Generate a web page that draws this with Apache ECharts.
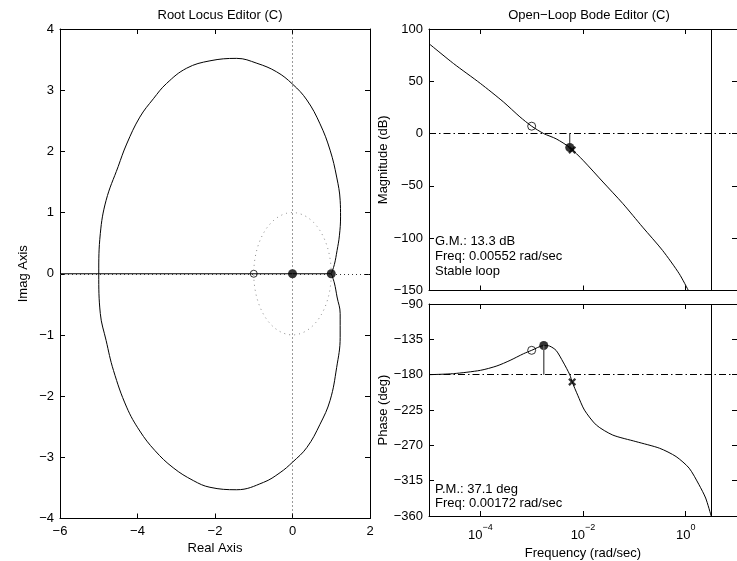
<!DOCTYPE html>
<html>
<head>
<meta charset="utf-8">
<script src="https://cdn.jsdelivr.net/npm/echarts@6/dist/echarts.min.js"></script>
<style>
  html, body { margin: 0; padding: 0; background: #fff; }
  #chart { width: 737px; height: 561px; }
</style>
</head>
<body>
<div id="chart"></div>
<script>
// ---- Root locus (left panel) ----
// complex branch of the locus, [real, imag], traced from the pole at 1 around the loop
const locusBranch = [
  [1.0, 0], [1.08, 0.15], [1.15, 0.38], [1.21, 0.62], [1.24, 0.93], [1.23, 1.2],
  [1.14, 1.58], [0.97, 2.02], [0.71, 2.45], [0.37, 2.84], [0.0, 3.10], [-0.41, 3.30],
  [-0.92, 3.44], [-1.44, 3.52], [-2.13, 3.48], [-2.73, 3.36], [-3.25, 3.11],
  [-3.59, 2.86], [-3.94, 2.56], [-4.28, 2.12], [-4.50, 1.75], [-4.81, 1.2],
  [-4.96, 0.655], [-5.0, 0],
  [-4.96, -0.65], [-4.81, -1.09], [-4.62, -1.58], [-4.28, -2.18], [-3.94, -2.57],
  [-3.55, -2.89], [-3.08, -3.17], [-2.56, -3.38], [-2.13, -3.49], [-1.44, -3.53],
  [-0.75, -3.41], [-0.32, -3.25], [0.0, -3.08], [0.37, -2.84], [0.71, -2.46],
  [0.97, -2.07], [1.14, -1.53], [1.23, -1.04], [1.23, -0.65], [1.15, -0.38],
  [1.08, -0.15], [1.0, 0]
];
// branch lying on the real axis
const realAxisBranch = [[-6, 0], [1, 0]];
const locusZeros = [[-1, 0]];
const locusPoles = [[0, 0], [1, 0]];

// unit circle (stability boundary of the discrete loop)
const unitCircle = [];
for (let k = 0; k <= 120; k++) {
  const t = (2 * Math.PI * k) / 120;
  unitCircle.push([Math.cos(t), Math.sin(t)]);
}

// ---- Open-loop Bode (right panels) ----
const magFreq = [1e-5, 3e-5, 1e-4, 2.8e-4, 5.9e-4, 1e-3, 1.72e-3, 3e-3, 5.52e-3,
  1e-2, 2.45e-2, 6e-2, 0.145, 0.355, 0.75, 1.13];
const magDb = [86, 67, 48, 30.4, 16, 7.1, 0, -5.0, -13.3,
  -25.5, -46.3, -67, -89.4, -111.7, -134, -150];

const phaseFreq = [1e-5, 3e-5, 1e-4, 2.1e-4, 3.8e-4, 6.9e-4, 1e-3, 1.72e-3, 2.24e-3,
  3e-3, 4.1e-3, 5.52e-3, 6.15e-3, 7.9e-3, 1.07e-2, 1.82e-2, 3.8e-2, 0.107, 0.31,
  0.65, 1.17, 1.82, 2.45, 3.14];
const phaseDeg = [-180, -178.7, -174.5, -168.9, -161.8, -153.4, -149, -142.9, -143.6,
  -149.2, -163.9, -180, -189.3, -206.2, -225.2, -244.2, -256.9, -265.2, -273.7,
  -284.3, -299.1, -320.2, -337.1, -360];

// compensator zero (o) and pole (x) markers on the response
const zeroMarkFreq = [1e-3];
const zeroMarkMag = [7.1];
const zeroMarkPhase = [-149];
const poleMarkFreq = [6.15e-3];
const poleMarkMag = [-15.6];
const poleMarkPhase = [-189.3];

// stability margins
const gainMarginDb = 13.3;
const gainMarginFreq = 0.00552;
const phaseMarginDeg = 37.1;
const phaseMarginFreq = 0.00172;
const nyquistFreq = Math.PI; // pi / Ts, Ts = 1

// axis ticks
const realTicks = [-6, 2, 2];     // min, max, step
const imagTicks = [-4, 4, 1];
const magTicks = [-150, 100, 50];
const phaseTicks = [-360, -90, 45];
const freqRange = [1e-5, 10];
const freqTickValues = [1e-4, 1e-2, 1];

const FONT = 'Liberation Sans, Arial, Helvetica, sans-serif';
const FS = 13;
const minus = v => String(v).replace('-', '\u2212');
const zip = (a, b) => a.map((x, i) => [x, b[i]]);

const tickIn = () => ({ show: true, inside: true, length: 5, lineStyle: { color: '#000', width: 1 } });
const labelStyle = { color: '#000', fontFamily: FONT, fontSize: FS };
const frameLine = () => ({ show: true, onZero: false, lineStyle: { color: '#000', width: 1 } });

function valueAxis(grid, range, pos, opts) {
  const ax = {
    type: 'value', gridIndex: grid, position: pos,
    min: range[0], max: range[1], interval: range[2],
    axisLine: frameLine(), axisTick: tickIn(), splitLine: { show: false },
    axisLabel: Object.assign({ formatter: minus, margin: 6 }, labelStyle)
  };
  if (pos === 'top' || pos === 'right') ax.axisLabel = { show: false };
  return Object.assign(ax, opts || {});
}

function freqAxis(grid, pos, withLabels, opts) {
  const ax = {
    type: 'log', logBase: 10, gridIndex: grid, position: pos,
    min: freqRange[0], max: freqRange[1],
    axisLine: frameLine(),
    axisTick: Object.assign({ customValues: freqTickValues }, tickIn()),
    splitLine: { show: false }, minorTick: { show: false },
    axisLabel: withLabels ? {
      customValues: freqTickValues, margin: 7,
      formatter: v => '{b|10}{e|' + minus(Math.round(Math.log10(v))) + '}',
      rich: {
        b: { fontFamily: FONT, fontSize: FS, color: '#000', padding: [6, 0, 0, 0] },
        e: { fontFamily: FONT, fontSize: 9, color: '#000', verticalAlign: 'top' }
      }
    } : { show: false }
  };
  return Object.assign(ax, opts || {});
}

const nameStyle = { color: '#000', fontFamily: FONT, fontSize: FS };

const dashDot = [7, 3, 1.5, 3];
const plain = { symbol: 'none', silent: true, label: { show: false } };

const xMarkPath = 'path://M2,0L5,3L8,0L10,2L7,5L10,8L8,10L5,7L2,10L0,8L3,5L0,2Z';

const option = {
  animation: false,
  backgroundColor: '#fff',
  textStyle: { fontFamily: FONT },
  title: [
    { text: 'Root Locus Editor (C)', left: 215, top: 4, textAlign: 'center',
      textStyle: { fontFamily: FONT, fontSize: FS, fontWeight: 'normal', color: '#000' } },
    { text: 'Open\u2212Loop Bode Editor (C)', left: 584, top: 4, textAlign: 'center',
      textStyle: { fontFamily: FONT, fontSize: FS, fontWeight: 'normal', color: '#000' } }
  ],
  grid: [
    { left: 60, top: 29, width: 310, height: 489.5 },
    { left: 429, top: 29, width: 309, height: 261.5 },
    { left: 429, top: 304, width: 309, height: 214 }
  ],
  xAxis: [
    valueAxis(0, realTicks, 'bottom', { name: 'Real Axis', nameLocation: 'middle', nameGap: 22, nameTextStyle: nameStyle }),
    valueAxis(0, realTicks, 'top'),
    freqAxis(1, 'bottom', false),
    freqAxis(1, 'top', false),
    freqAxis(2, 'bottom', true, { name: 'Frequency (rad/sec)', nameLocation: 'middle', nameGap: 31, nameTextStyle: nameStyle }),
    freqAxis(2, 'top', false)
  ],
  yAxis: [
    valueAxis(0, imagTicks, 'left', { name: 'Imag Axis', nameLocation: 'middle', nameGap: 30, nameTextStyle: nameStyle }),
    valueAxis(0, imagTicks, 'right'),
    valueAxis(1, magTicks, 'left', { name: 'Magnitude (dB)', nameLocation: 'middle', nameGap: 38, nameTextStyle: nameStyle }),
    valueAxis(1, magTicks, 'right'),
    valueAxis(2, phaseTicks, 'left', { name: 'Phase (deg)', nameLocation: 'middle', nameGap: 38, nameTextStyle: nameStyle }),
    valueAxis(2, phaseTicks, 'right')
  ],
  series: [
    // unit circle and the real / imaginary axes
    { type: 'line', xAxisIndex: 0, yAxisIndex: 0, data: unitCircle, showSymbol: false, silent: true,
      lineStyle: { color: '#8a8a8a', width: 1, type: [1, 4] },
      markLine: Object.assign({
        lineStyle: { color: '#333', width: 1, type: [1, 3] },
        data: [{ xAxis: 0 }, { yAxis: 0 }]
      }, plain) },
    // locus branches
    { type: 'line', xAxisIndex: 0, yAxisIndex: 0, data: realAxisBranch, showSymbol: false, silent: true,
      lineStyle: { color: '#000', width: 1 } },
    { type: 'line', xAxisIndex: 0, yAxisIndex: 0, data: locusBranch, showSymbol: false, silent: true,
      smooth: 0.4, lineStyle: { color: '#000', width: 1 } },
    { type: 'scatter', xAxisIndex: 0, yAxisIndex: 0, data: locusZeros, symbol: 'circle', symbolSize: 7,
      itemStyle: { color: '#fff', borderColor: '#000', borderWidth: 1 } },
    { type: 'scatter', xAxisIndex: 0, yAxisIndex: 0, data: locusPoles, symbol: 'circle', symbolSize: 9,
      itemStyle: { color: '#000' } },

    // magnitude
    { type: 'line', xAxisIndex: 2, yAxisIndex: 2, data: zip(magFreq, magDb), showSymbol: false, silent: true,
      smooth: 0.25, lineStyle: { color: '#000', width: 1 },
      markLine: Object.assign({
        data: [
          { yAxis: 0, lineStyle: { color: '#000', width: 1, type: dashDot } },
          { xAxis: nyquistFreq, lineStyle: { color: '#000', width: 1, type: 'solid' } }
        ]
      }, plain) },
    { type: 'line', xAxisIndex: 2, yAxisIndex: 2, showSymbol: false, silent: true,
      data: [[gainMarginFreq, 0], [gainMarginFreq, -gainMarginDb]],
      lineStyle: { color: '#222', width: 1 } },
    { type: 'scatter', xAxisIndex: 2, yAxisIndex: 2, data: zip(poleMarkFreq, poleMarkMag),
      symbol: xMarkPath, symbolSize: 8, itemStyle: { color: '#000' } },
    { type: 'scatter', xAxisIndex: 2, yAxisIndex: 2, data: zip(zeroMarkFreq, zeroMarkMag),
      symbol: 'circle', symbolSize: 8, itemStyle: { color: '#fff', borderColor: '#000', borderWidth: 1 } },
    { type: 'scatter', xAxisIndex: 2, yAxisIndex: 2, data: [[gainMarginFreq, -gainMarginDb]],
      symbol: 'circle', symbolSize: 9, itemStyle: { color: '#000' } },

    // phase
    { type: 'line', xAxisIndex: 4, yAxisIndex: 4, data: zip(phaseFreq, phaseDeg), showSymbol: false, silent: true,
      smooth: 0.25, lineStyle: { color: '#000', width: 1 },
      markLine: Object.assign({
        data: [
          { yAxis: -180, lineStyle: { color: '#000', width: 1, type: dashDot } },
          { xAxis: nyquistFreq, lineStyle: { color: '#000', width: 1, type: 'solid' } }
        ]
      }, plain) },
    { type: 'line', xAxisIndex: 4, yAxisIndex: 4, showSymbol: false, silent: true,
      data: [[phaseMarginFreq, -180], [phaseMarginFreq, -180 + phaseMarginDeg]],
      lineStyle: { color: '#666', width: 1.5 } },
    { type: 'scatter', xAxisIndex: 4, yAxisIndex: 4, data: zip(poleMarkFreq, poleMarkPhase),
      symbol: xMarkPath, symbolSize: 8, itemStyle: { color: '#000' } },
    { type: 'scatter', xAxisIndex: 4, yAxisIndex: 4, data: zip(zeroMarkFreq, zeroMarkPhase),
      symbol: 'circle', symbolSize: 8, itemStyle: { color: '#fff', borderColor: '#000', borderWidth: 1 } },
    { type: 'scatter', xAxisIndex: 4, yAxisIndex: 4, data: [[phaseMarginFreq, -180 + phaseMarginDeg]],
      symbol: 'circle', symbolSize: 9, itemStyle: { color: '#000' } }
  ],
  graphic: [
    { type: 'text', left: 435, top: 234, silent: true,
      style: { text: 'G.M.: ' + gainMarginDb + ' dB\nFreq: ' + gainMarginFreq + ' rad/sec\nStable loop',
        font: FS + 'px ' + FONT, fill: '#000', lineHeight: 15 } },
    { type: 'text', left: 435, top: 482, silent: true,
      style: { text: 'P.M.: ' + phaseMarginDeg + ' deg\nFreq: ' + phaseMarginFreq + ' rad/sec',
        font: FS + 'px ' + FONT, fill: '#000', lineHeight: 14 } }
  ]
};

const chart = echarts.init(document.getElementById('chart'), null, { renderer: 'canvas' });
chart.setOption(option);
</script>
</body>
</html>
